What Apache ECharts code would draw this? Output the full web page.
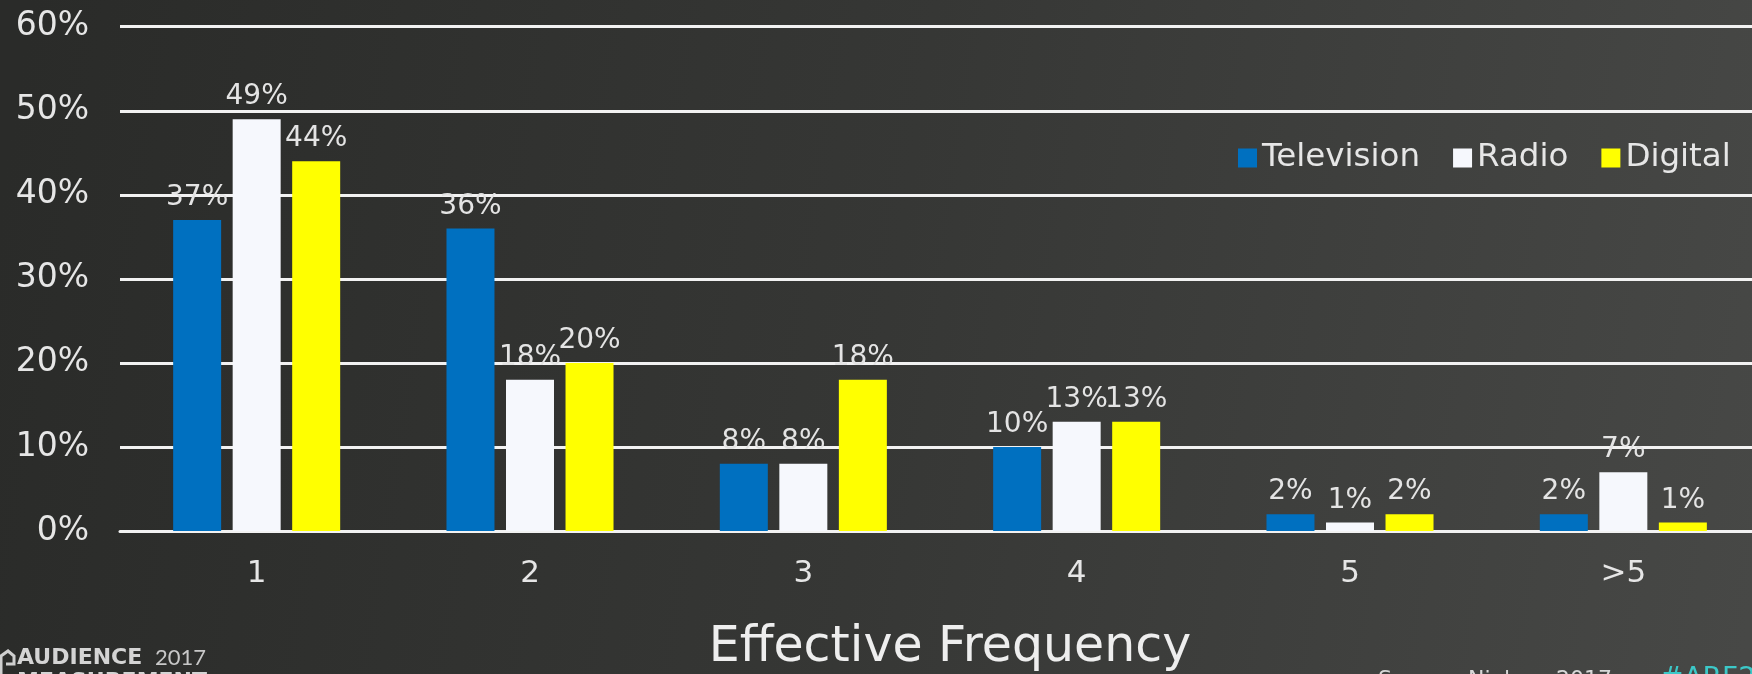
<!DOCTYPE html>
<html>
<head>
<meta charset="utf-8">
<script src="https://cdn.jsdelivr.net/npm/echarts@6/dist/echarts.min.js"></script>
<style>
  html, body { margin: 0; padding: 0; background: #333432; overflow: hidden; }
  /* the plot runs slightly past the right edge of the page, so the canvas is wider than the window */
  #chart { width: 1772px; height: 674px; }
</style>
</head>
<body>
<div id="chart"></div>
<script>
// Share of respondents by effective frequency, per medium
const categories = ['1', '2', '3', '4', '5', '>5'];
const television = [37, 36, 8, 10, 2, 2];
const radio = [49, 18, 8, 13, 1, 7];
const digital = [44, 20, 18, 13, 2, 1];
const seriesNames = ['Television', 'Radio', 'Digital'];
const seriesColors = ['#0070C0', '#F6F8FD', '#FFFF00'];

const FONT = 'DejaVu Sans';
const chart = echarts.init(document.getElementById('chart'), null, { renderer: 'canvas' });

function barSeries(name, data, color) {
  return {
    name: name,
    type: 'bar',
    data: data,
    barWidth: 48,
    barGap: '24%',
    itemStyle: { color: color },
    label: {
      show: true,
      position: 'top',
      distance: 8,
      formatter: '{c}%',
      color: '#e4e4e4',
      fontFamily: FONT,
      fontSize: 28
    },
    z: 3
  };
}

const option = {
  animation: false,
  backgroundColor: {
    type: 'linear', x: 0, y: 0.3, x2: 1, y2: 0.7,
    colorStops: [
      { offset: 0, color: '#2a2b29' },
      { offset: 0.5, color: '#363735' },
      { offset: 1, color: '#474846' }
    ]
  },
  grid: { left: 120, top: 26.7, width: 1640, height: 504.3, containLabel: false },
  legend: {
    data: seriesNames,
    left: 1233,
    top: 135,
    icon: 'rect',
    itemWidth: 19,
    itemHeight: 19,
    itemGap: 33,
    textStyle: { color: '#e6e6e6', fontFamily: FONT, fontSize: 32.5, lineHeight: 36 }
  },
  xAxis: {
    type: 'category',
    data: categories,
    axisLine: { show: true, lineStyle: { color: '#f2f2f2', width: 3 } },
    axisTick: { show: false },
    axisLabel: { color: '#e6e6e6', fontFamily: FONT, fontSize: 31, margin: 27 }
  },
  yAxis: {
    type: 'value',
    min: 0,
    max: 60,
    interval: 10,
    axisLine: { show: false },
    axisTick: { show: false },
    splitLine: { lineStyle: { color: '#f2f2f2', width: 3 } },
    axisLabel: { color: '#e6e6e6', fontFamily: FONT, fontSize: 33, margin: 31, formatter: '{value}%' }
  },
  series: [
    barSeries(seriesNames[0], television, seriesColors[0]),
    barSeries(seriesNames[1], radio, seriesColors[1]),
    barSeries(seriesNames[2], digital, seriesColors[2])
  ],
  graphic: [
    {
      type: 'text', x: 950, y: 648, z: 10,
      style: { text: 'Effective Frequency', fill: '#eeeeee', font: '49px "DejaVu Sans"', textAlign: 'center', textVerticalAlign: 'middle' }
    },
    // event branding in the lower-left corner
    {
      type: 'text', x: 17, y: 658, z: 10,
      style: { text: 'AUDIENCE', fill: '#d4d4d4', font: 'bold 22px "DejaVu Sans"', textAlign: 'left', textVerticalAlign: 'middle' }
    },
    {
      type: 'text', x: 155, y: 658, z: 10,
      style: { text: '2017', fill: '#c8c8c8', font: '22px Lato', textAlign: 'left', textVerticalAlign: 'middle' }
    },
    {
      type: 'text', x: 17, y: 682, z: 10,
      style: { text: 'MEASUREMENT', fill: '#d4d4d4', font: 'bold 22px "DejaVu Sans"', textAlign: 'left', textVerticalAlign: 'middle' }
    },
    {
      type: 'polyline', z: 10,
      shape: { points: [[1, 674], [1, 656], [8, 651], [14, 656], [14, 664], [6, 664]] },
      style: { stroke: '#cfcfcf', lineWidth: 3, fill: null }
    },
    // source note and hashtag in the lower-right corner
    {
      type: 'text', x: 1378, y: 680, z: 10,
      style: { text: 'Source: Nielsen 2017', fill: '#d8d8d8', font: '22px "DejaVu Sans"', textAlign: 'left', textVerticalAlign: 'middle' }
    },
    {
      type: 'text', x: 1660, y: 680, z: 10,
      style: { text: '#ARF2017', fill: '#3cc8c8', font: '28px "DejaVu Sans"', textAlign: 'left', textVerticalAlign: 'middle' }
    }
  ]
};

chart.setOption(option);
</script>
</body>
</html>
